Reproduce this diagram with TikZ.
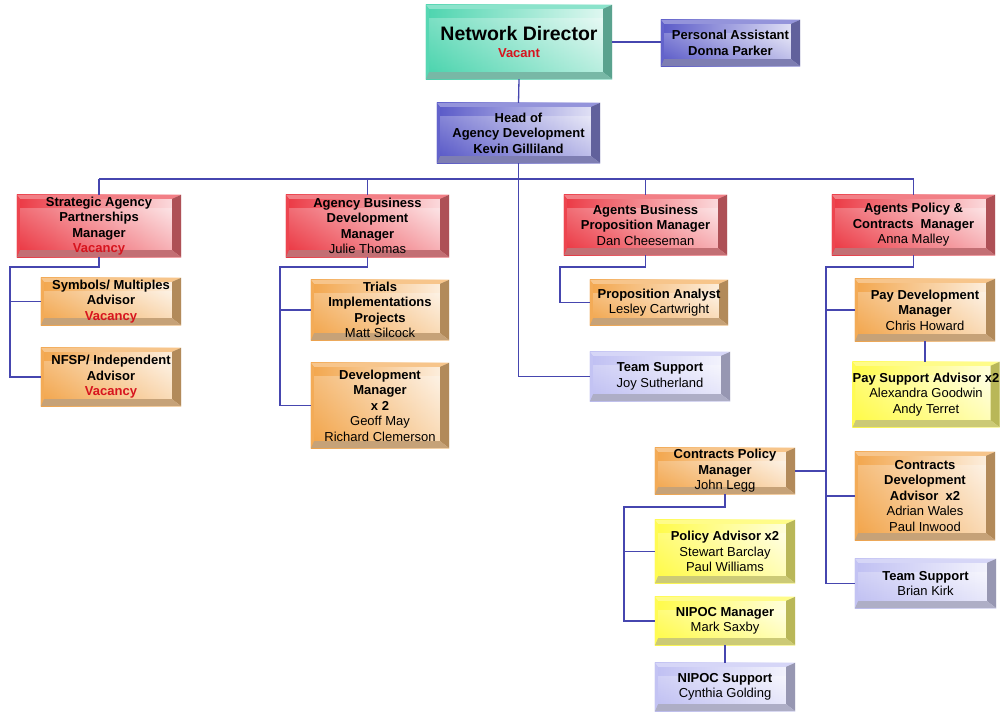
\documentclass[tikz,border=0pt]{standalone}
\usepackage{fontspec}
\setmainfont{Liberation Sans}
\definecolor{cteal}{RGB}{45,205,160}
\definecolor{cblue}{RGB}{60,60,190}
\definecolor{cred}{RGB}{232,22,35}
\definecolor{corange}{RGB}{240,150,45}
\definecolor{cyellow}{RGB}{255,250,40}
\definecolor{clav}{RGB}{180,180,240}
\definecolor{vacred}{RGB}{215,20,30}
\definecolor{cline}{RGB}{70,70,175}
\newcommand{\vac}[1]{{\color{vacred}\bfseries #1}}
\pgfdeclarelayer{bg}
\pgfsetlayers{bg,main}
\newcommand{\bevelbox}[2]{%
  \begin{pgfonlayer}{bg}
  \shade[left color=#2!85, middle color=white, right color=#2!12]
    (#1.south west) rectangle (#1.north east);
  \shade[bottom color=#2, top color=white, opacity=0.25]
    (#1.south west) rectangle ([yshift=-14pt]#1.north east);
  \fill[#2!55]
    (#1.north west) -- (#1.north east) -- ([xshift=-9pt,yshift=-4pt]#1.north east)
    -- ([xshift=3pt,yshift=-4pt]#1.north west) -- cycle;
  \fill[#2!45!gray]
    (#1.north east) -- (#1.south east) -- ([xshift=-9pt,yshift=7pt]#1.south east)
    -- ([xshift=-9pt,yshift=-4pt]#1.north east) -- cycle;
  \fill[#2!50!gray!80]
    (#1.south west) -- (#1.south east) -- ([xshift=-9pt,yshift=7pt]#1.south east)
    -- ([xshift=3pt,yshift=7pt]#1.south west) -- cycle;
  \fill[#2!80]
    (#1.north west) -- (#1.south west) -- ([xshift=3pt,yshift=7pt]#1.south west)
    -- ([xshift=3pt,yshift=-4pt]#1.north west) -- cycle;
  \end{pgfonlayer}}
\tikzset{
  obox/.style={rectangle, inner sep=0pt, align=center,
    font=\fontsize{13}{15.5}\selectfont},
  conn/.style={draw=cline, line width=1.3pt}
}
\begin{document}
\begin{tikzpicture}[x=1pt,y=1pt]
\useasboundingbox (0,0) rectangle (1001,-713);
\begin{pgfonlayer}{bg}
\fill[white] (0,0) rectangle (1001,-713);
\end{pgfonlayer}

% nodes
\node[obox, minimum width=186pt, minimum height=74pt] (nd) at (519,-42)
  {{\fontsize{19.5}{22}\selectfont\bfseries Network Director}\\[2pt]\vac{Vacant}};
\node[obox, minimum width=139pt, minimum height=46pt] (pa) at (730.5,-43)
  {\textbf{Personal Assistant}\\\textbf{Donna Parker}};
\node[obox, minimum width=163pt, minimum height=60pt] (head) at (518.5,-133)
  {\textbf{Head of}\\\textbf{Agency Development}\\\textbf{Kevin Gilliland}};

\node[obox, minimum width=164pt, minimum height=62pt] (sap) at (99,-226)
  {\textbf{Strategic Agency}\\\textbf{Partnerships}\\\textbf{Manager}\\\vac{Vacancy}};
\node[obox, minimum width=163pt, minimum height=62pt] (abd) at (367.5,-226)
  {\textbf{Agency Business}\\\textbf{Development}\\\textbf{Manager}\\Julie Thomas};
\node[obox, minimum width=163pt, minimum height=60pt] (abp) at (645.5,-225)
  {\textbf{Agents Business}\\\textbf{Proposition Manager}\\Dan Cheeseman};
\node[obox, minimum width=163pt, minimum height=60pt] (apc) at (913.5,-225)
  {\textbf{Agents Policy \&}\\\textbf{Contracts\ \ Manager}\\Anna Malley};

\node[obox, minimum width=140pt, minimum height=47pt] (sym) at (111,-301.5)
  {\textbf{Symbols/ Multiples}\\\textbf{Advisor}\\\vac{Vacancy}};
\node[obox, minimum width=140pt, minimum height=58pt] (nfsp) at (111,-377)
  {\textbf{NFSP/ Independent}\\\textbf{Advisor}\\\vac{Vacancy}};

\node[obox, minimum width=138pt, minimum height=60pt] (trials) at (380,-310)
  {\textbf{Trials}\\\textbf{Implementations}\\\textbf{Projects}\\Matt Silcock};
\node[obox, minimum width=138pt, minimum height=85pt] (devm) at (380,-405.5)
  {\textbf{Development}\\\textbf{Manager}\\\textbf{x 2}\\Geoff May\\Richard Clemerson};

\node[obox, minimum width=138pt, minimum height=45pt] (prop) at (659,-302.5)
  {\textbf{Proposition Analyst}\\Lesley Cartwright};
\node[obox, minimum width=140pt, minimum height=49pt] (joy) at (660,-376.5)
  {\textbf{Team Support}\\Joy Sutherland};

\node[obox, minimum width=140pt, minimum height=62pt] (paydev) at (925,-310)
  {\textbf{Pay Development}\\\textbf{Manager}\\Chris Howard};
\node[obox, minimum width=142pt, minimum height=65pt] (paysup) at (926,-394.5)
  {\textbf{Pay Support Advisor x2}\\Alexandra Goodwin\\Andy Terret};
\node[obox, minimum width=140pt, minimum height=46pt] (cpm) at (725,-471)
  {\textbf{Contracts Policy}\\\textbf{Manager}\\John Legg};
\node[obox, minimum width=140pt, minimum height=88pt] (cda) at (925,-496)
  {\textbf{Contracts}\\\textbf{Development}\\\textbf{Advisor\ \ x2}\\Adrian Wales\\Paul Inwood};
\node[obox, minimum width=141pt, minimum height=49pt] (brian) at (925.5,-583.5)
  {\textbf{Team Support}\\Brian Kirk};

\node[obox, minimum width=140pt, minimum height=63pt] (pol) at (725,-551.5)
  {\textbf{Policy Advisor x2}\\Stewart Barclay\\Paul Williams};
\node[obox, minimum width=140pt, minimum height=48pt] (nipm) at (725,-621)
  {\textbf{NIPOC Manager}\\Mark Saxby};
\node[obox, minimum width=140pt, minimum height=48pt] (nips) at (725,-687)
  {\textbf{NIPOC Support}\\Cynthia Golding};

% box faces and bevels
\foreach \n/\c in {nd/cteal, pa/cblue, head/cblue,
    sap/cred, abd/cred, abp/cred, apc/cred,
    sym/corange, nfsp/corange, trials/corange, devm/corange, prop/corange,
    paydev/corange, cpm/corange, cda/corange,
    paysup/cyellow, pol/cyellow, nipm/cyellow,
    joy/clav, brian/clav, nips/clav}
  {\bevelbox{\n}{\c}}

% junction coordinates
\coordinate (bus) at (518,-179);
\coordinate (sapL) at (10,-267);
\coordinate (abdL) at (280,-267);
\coordinate (abpL) at (560,-267);
\coordinate (apcL) at (826,-267);
\coordinate (cpmL) at (624,-507);

% connectors
\draw[conn] (nd.east) -- (nd.east -| pa.west);
\draw[conn] (nd.south) -- (head.north);
\draw[conn] (sap.north |- bus) -- (apc.north |- bus);
\foreach \n in {sap,abd,abp,apc} \draw[conn] (\n.north) -- (\n.north |- bus);
\draw[conn] (head.south) |- (joy.west);

\draw[conn] (sap.south) |- (sapL) |- (nfsp.west);
\draw[conn] (sapL |- sym.west) -- (sym.west);

\draw[conn] (abd.south) |- (abdL) |- (devm.west);
\draw[conn] (abdL |- trials.west) -- (trials.west);

\draw[conn] (abp.south) |- (abpL) |- (prop.west);

\draw[conn] (apc.south) |- (apcL) |- (brian.west);
\draw[conn] (apcL |- paydev.west) -- (paydev.west);
\draw[conn] (apcL |- cda.west) -- (cda.west);
\draw[conn] (apcL |- cpm.east) -- (cpm.east);
\draw[conn] (paydev.south) -- (paydev.south |- paysup.north);

\draw[conn] (cpm.south) |- (cpmL) |- (nipm.west);
\draw[conn] (cpmL |- pol.west) -- (pol.west);
\draw[conn] (nipm.south) -- (nips.north);
\end{tikzpicture}
\end{document}
